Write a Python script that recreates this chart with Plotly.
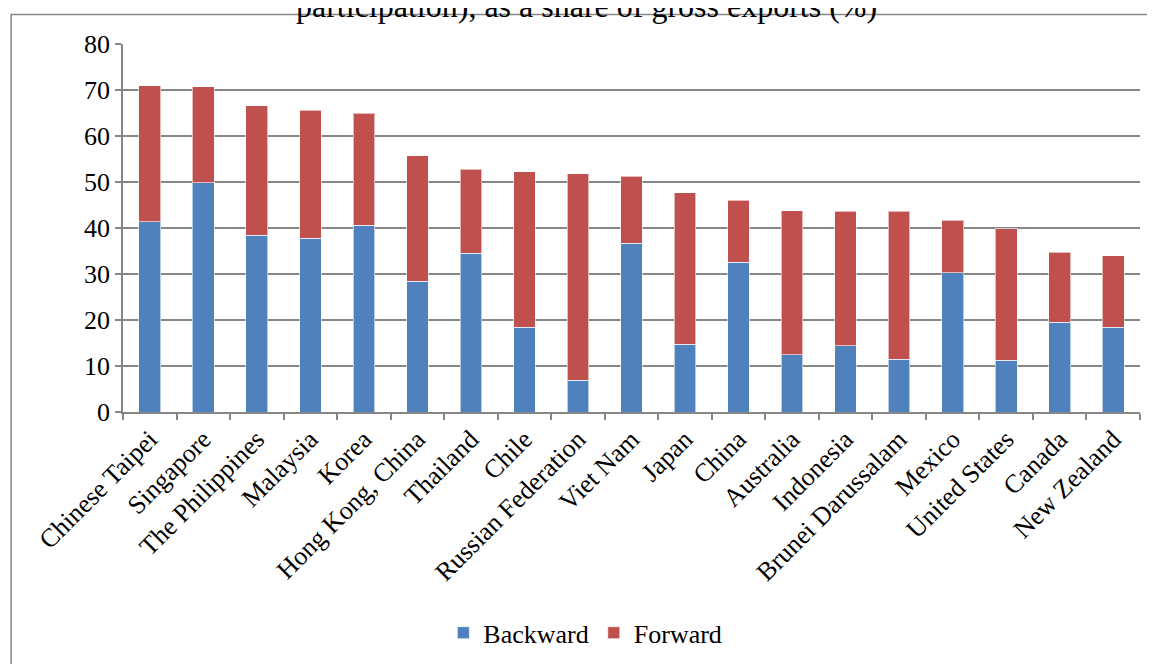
import plotly.graph_objects as go

categories = ["Chinese Taipei", "Singapore", "The Philippines", "Malaysia", "Korea",
              "Hong Kong, China", "Thailand", "Chile", "Russian Federation", "Viet Nam",
              "Japan", "China", "Australia", "Indonesia", "Brunei Darussalam", "Mexico",
              "United States", "Canada", "New Zealand"]
backward = [41.4, 49.8, 38.4, 37.8, 40.6, 28.4, 34.5, 18.4, 6.9, 36.7,
            14.7, 32.6, 12.5, 14.4, 11.5, 30.3, 11.2, 19.5, 18.4]
forward = [29.5, 20.9, 28.2, 27.8, 24.4, 27.3, 18.3, 33.8, 44.9, 14.6,
           33.0, 13.4, 31.3, 29.2, 32.1, 11.4, 28.6, 15.2, 15.6]
y_ticks = [0, 10, 20, 30, 40, 50, 60, 70, 80]
title_text = "participation), as a share of gross exports (%)"

FONT = "Liberation Serif"
GRID = "#868686"

fig = go.Figure()
fig.add_trace(go.Bar(x=categories, y=backward, name="Backward",
                     marker=dict(color="#4F81BD", line=dict(color="rgba(255,255,255,0.6)", width=1))))
fig.add_trace(go.Bar(x=categories, y=forward, name="Forward",
                     marker=dict(color="#C0504D", line=dict(color="rgba(255,255,255,0.6)", width=1))))

fig.update_layout(
    barmode="stack",
    bargap=0.595,
    width=1147, height=656,
    margin=dict(l=115, r=15, t=36, b=252, autoexpand=False),
    paper_bgcolor="white", plot_bgcolor="white",
    font=dict(family=FONT, size=26, color="black"),
    showlegend=True,
    legend=dict(orientation="h", x=0.315, xanchor="left", y=-0.60, yanchor="middle",
                font=dict(family=FONT, size=26, color="black"),
                traceorder="normal", itemwidth=30, bgcolor="rgba(0,0,0,0)"),
    xaxis=dict(tickangle=-45, showgrid=False, showline=True, linecolor=GRID, linewidth=1.5,
               ticks="outside", tickson="boundaries", ticklen=6, tickcolor=GRID, tickwidth=1.5,
               tickfont=dict(family=FONT, size=26, color="black")),
    yaxis=dict(range=[0, 80], tickvals=y_ticks, showgrid=True, gridcolor=GRID, gridwidth=1.5,
               showline=True, linecolor=GRID, linewidth=1.5, zeroline=False,
               ticks="outside", ticklen=6, tickcolor=GRID, tickwidth=1.5,
               tickfont=dict(family=FONT, size=26, color="black")),
)

fig.add_shape(type="rect", xref="paper", yref="paper",
              x0=-0.110, x1=1.06, y0=-0.8, y1=1.080,
              line=dict(color=GRID, width=1.5), fillcolor="rgba(0,0,0,0)", layer="below")

fig.add_annotation(text=title_text, xref="paper", yref="paper", x=0.456, y=1.049,
                   xanchor="center", yanchor="bottom", showarrow=False,
                   font=dict(family=FONT, size=32, color="black"))

fig.write_html("out.html")
